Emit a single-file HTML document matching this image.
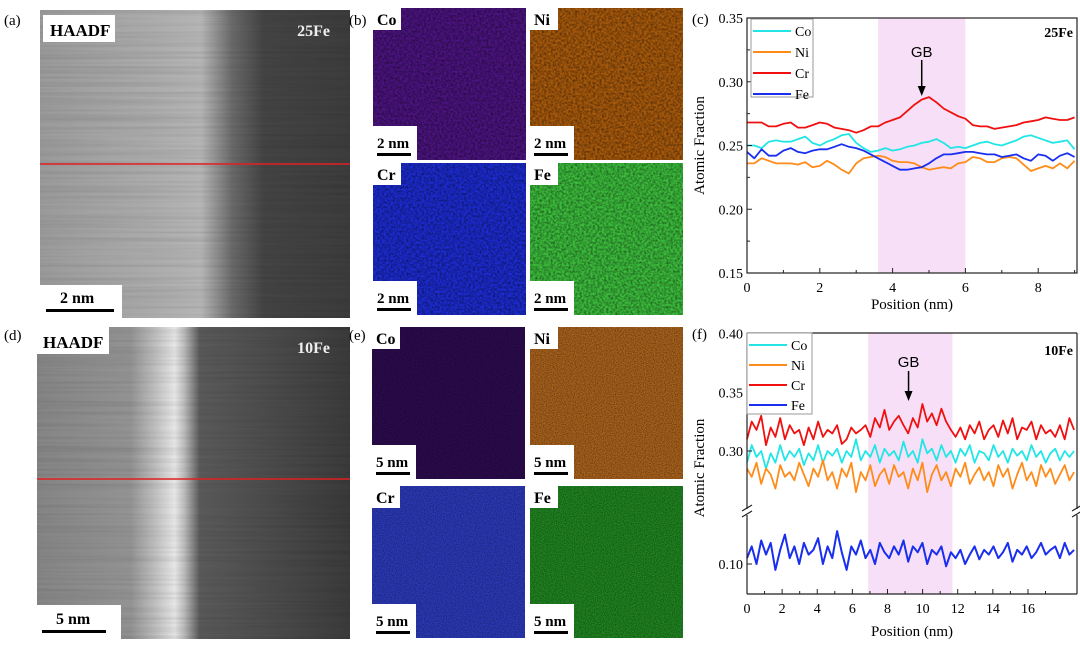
<!DOCTYPE html>
<html><head><meta charset="utf-8"><style>
html,body{margin:0;padding:0;background:#fff;}
svg{display:block;font-family:"Liberation Serif",serif;}
</style></head><body>
<svg id="fig" width="1080" height="645" viewBox="0 0 1080 645" xmlns="http://www.w3.org/2000/svg">
<defs>
<filter id="noise" x="0" y="0" width="100%" height="100%"><feTurbulence type="fractalNoise" baseFrequency="0.45" numOctaves="2" seed="3"/><feColorMatrix type="matrix" values="0 0 0 0 0  0 0 0 0 0  0 0 0 0 0  0 0 0 -1.6 1.1"/></filter>
<filter id="noiseF" x="0" y="0" width="100%" height="100%"><feTurbulence type="fractalNoise" baseFrequency="0.9" numOctaves="2" seed="7"/><feColorMatrix type="matrix" values="0 0 0 0 0  0 0 0 0 0  0 0 0 0 0  0 0 0 -1.4 1.0"/></filter>
<filter id="streak" x="0" y="0" width="100%" height="100%"><feTurbulence type="fractalNoise" baseFrequency="0.004 0.35" numOctaves="2" seed="5"/><feColorMatrix type="matrix" values="0 0 0 0 0  0 0 0 0 0  0 0 0 0 0  0 0 0 -1.2 0.75"/></filter>
<linearGradient id="gA" x1="0" x2="1" y1="0" y2="0"><stop offset="0" stop-color="#9a9a9a"/><stop offset="0.35" stop-color="#ababab"/><stop offset="0.52" stop-color="#b5b5b5"/><stop offset="0.62" stop-color="#6a6a6a"/><stop offset="0.72" stop-color="#444"/><stop offset="1" stop-color="#3c3c3c"/></linearGradient>
<linearGradient id="gD" x1="0" x2="1" y1="0" y2="0"><stop offset="0" stop-color="#858585"/><stop offset="0.3" stop-color="#939393"/><stop offset="0.38" stop-color="#c0c0c0"/><stop offset="0.44" stop-color="#e6e6e6"/><stop offset="0.47" stop-color="#bdbdbd"/><stop offset="0.52" stop-color="#5a5a5a"/><stop offset="1" stop-color="#3a3a3a"/></linearGradient>
</defs>

<!-- (a) HAADF 25Fe -->
<g>
<rect x="40" y="10" width="310" height="308" fill="url(#gA)"/>
<rect x="40" y="10" width="310" height="308" fill="#000" filter="url(#streak)" opacity="0.15"/>
<line x1="40" y1="164" x2="350" y2="164" stroke="#e02020" stroke-width="1.5"/>
<rect x="43" y="15" width="72" height="27" fill="#fff"/>
<text x="50" y="36" font-weight="bold" font-size="17">HAADF</text>
<text x="330" y="36" font-weight="bold" font-size="16" fill="#eee" text-anchor="end">25Fe</text>
<rect x="40" y="285" width="82" height="33" fill="#fff"/>
<text x="60" y="303" font-weight="bold" font-size="16">2 nm</text>
<rect x="46" y="309" width="68" height="3" fill="#000"/>
</g>
<text x="4" y="25" font-size="15">(a)</text>

<!-- (d) HAADF 10Fe -->
<g>
<rect x="37" y="327" width="313" height="312" fill="url(#gD)"/>
<rect x="37" y="327" width="313" height="312" fill="#000" filter="url(#streak)" opacity="0.15"/>
<line x1="37" y1="479" x2="350" y2="479" stroke="#e02020" stroke-width="1.5"/>
<rect x="37" y="327" width="72" height="27" fill="#fff"/>
<text x="43" y="348" font-weight="bold" font-size="17">HAADF</text>
<text x="330" y="353" font-weight="bold" font-size="16" fill="#eee" text-anchor="end">10Fe</text>
<rect x="37" y="605" width="84" height="34" fill="#fff"/>
<text x="56" y="624" font-weight="bold" font-size="16">5 nm</text>
<rect x="42" y="630" width="64" height="3" fill="#000"/>
</g>
<text x="4" y="340" font-size="15">(d)</text>

<text x="349" y="25" font-size="15">(b)</text>
<text x="349" y="340" font-size="15">(e)</text>
<g id="eds"></g>

<text x="692" y="24" font-size="15">(c)</text>
<text x="692" y="339" font-size="15">(f)</text>
<g id="chartC"></g>
<g id="chartF"></g>
</svg>
<script>
// ---------- Chart (c) data ----------
const cPositions = [0,0.2,0.4,0.6,0.8,1.0,1.2,1.4,1.6,1.8,2.0,2.2,2.4,2.6,2.8,3.0,3.2,3.4,3.6,3.8,4.0,4.2,4.4,4.6,4.8,5.0,5.2,5.4,5.6,5.8,6.0,6.2,6.4,6.6,6.8,7.0,7.2,7.4,7.6,7.8,8.0,8.2,8.4,8.6,8.8,9.0];
const cCr = [0.268,0.268,0.268,0.265,0.265,0.267,0.268,0.264,0.264,0.266,0.268,0.267,0.264,0.263,0.262,0.260,0.262,0.265,0.265,0.268,0.270,0.272,0.277,0.282,0.286,0.288,0.284,0.279,0.276,0.273,0.271,0.266,0.265,0.265,0.263,0.264,0.265,0.266,0.268,0.269,0.270,0.272,0.271,0.270,0.270,0.272];
const cCo = [0.250,0.250,0.248,0.253,0.254,0.253,0.253,0.255,0.257,0.252,0.250,0.253,0.255,0.258,0.259,0.252,0.248,0.245,0.246,0.248,0.246,0.247,0.249,0.250,0.252,0.253,0.255,0.252,0.248,0.249,0.248,0.250,0.252,0.253,0.251,0.250,0.252,0.254,0.257,0.258,0.256,0.254,0.252,0.253,0.254,0.247];
const cNi = [0.236,0.236,0.240,0.238,0.236,0.236,0.236,0.235,0.237,0.233,0.234,0.238,0.235,0.231,0.228,0.236,0.240,0.241,0.242,0.241,0.238,0.237,0.237,0.236,0.233,0.231,0.232,0.233,0.232,0.236,0.237,0.241,0.240,0.237,0.237,0.240,0.241,0.240,0.235,0.230,0.232,0.234,0.232,0.236,0.232,0.238];
const cFe = [0.245,0.240,0.247,0.242,0.242,0.246,0.248,0.245,0.244,0.246,0.247,0.247,0.249,0.251,0.249,0.248,0.246,0.243,0.240,0.237,0.234,0.231,0.231,0.232,0.233,0.236,0.240,0.243,0.243,0.244,0.245,0.245,0.244,0.243,0.243,0.241,0.242,0.243,0.240,0.238,0.243,0.242,0.238,0.242,0.244,0.241];
const cXTicks = ["0","2","4","6","8"];
const cYTicks = ["0.15","0.20","0.25","0.30","0.35"];
const cBand = [3.6, 6.0];
const cGB = 4.8;

// ---------- Chart (f) data ----------
const fStep = 0.27;
const fCr = [0.31,0.325,0.318,0.33,0.305,0.32,0.312,0.328,0.31,0.322,0.315,0.318,0.305,0.32,0.31,0.325,0.312,0.318,0.315,0.322,0.306,0.31,0.32,0.315,0.318,0.322,0.312,0.328,0.32,0.335,0.318,0.325,0.33,0.322,0.315,0.328,0.32,0.34,0.325,0.332,0.322,0.336,0.325,0.318,0.312,0.32,0.31,0.322,0.315,0.325,0.31,0.318,0.322,0.312,0.326,0.315,0.328,0.31,0.32,0.318,0.325,0.31,0.322,0.315,0.318,0.312,0.322,0.31,0.328,0.318];
const fCo = [0.29,0.305,0.295,0.3,0.285,0.298,0.29,0.305,0.292,0.3,0.295,0.302,0.288,0.298,0.292,0.305,0.29,0.3,0.296,0.302,0.29,0.3,0.295,0.31,0.292,0.3,0.295,0.305,0.29,0.302,0.296,0.3,0.292,0.308,0.295,0.3,0.29,0.31,0.298,0.302,0.292,0.305,0.295,0.3,0.29,0.302,0.296,0.305,0.29,0.3,0.298,0.292,0.305,0.295,0.3,0.29,0.302,0.296,0.3,0.292,0.305,0.295,0.3,0.29,0.298,0.302,0.292,0.3,0.295,0.3];
const fNi = [0.285,0.278,0.29,0.272,0.285,0.28,0.268,0.288,0.278,0.282,0.275,0.29,0.28,0.27,0.285,0.278,0.292,0.275,0.282,0.268,0.285,0.278,0.29,0.265,0.282,0.275,0.288,0.27,0.28,0.285,0.272,0.288,0.278,0.282,0.268,0.285,0.275,0.29,0.265,0.28,0.288,0.275,0.282,0.27,0.285,0.278,0.29,0.272,0.28,0.286,0.275,0.282,0.27,0.288,0.278,0.285,0.268,0.28,0.29,0.275,0.282,0.27,0.288,0.278,0.285,0.272,0.28,0.288,0.275,0.282];
const fFe = [0.105,0.115,0.1,0.12,0.108,0.118,0.095,0.112,0.125,0.105,0.115,0.1,0.118,0.108,0.112,0.122,0.1,0.115,0.105,0.128,0.11,0.095,0.115,0.108,0.12,0.105,0.112,0.1,0.118,0.11,0.105,0.115,0.108,0.12,0.102,0.115,0.11,0.118,0.1,0.112,0.108,0.115,0.098,0.11,0.105,0.112,0.1,0.108,0.115,0.104,0.112,0.108,0.115,0.105,0.11,0.118,0.102,0.112,0.108,0.115,0.105,0.11,0.118,0.108,0.112,0.115,0.105,0.118,0.108,0.112];
const fXTicks = ["0","2","4","6","8","10","12","14","16"];
const fYTicksUpper = ["0.30","0.35","0.40"];
const fYTicksLower = ["0.10"];
const fBand = [6.9, 11.7];
const fGB = 9.2;

const NS = "http://www.w3.org/2000/svg";
function mk(tag, attrs, parent, txt){
  const e = document.createElementNS(NS, tag);
  for (const k in attrs) e.setAttribute(k, attrs[k]);
  if (txt !== undefined) e.textContent = txt;
  parent.appendChild(e);
  return e;
}
const COL = {Co:"#22e6e6", Ni:"#ff8c1a", Cr:"#f01010", Fe:"#1a2ef0"};

// ---------- EDS maps ----------
const eds = document.getElementById('eds');
const maps = [
  {el:"Co", x:373, y:8, c:"#4c1480", s:"2 nm", f:"noise"},
  {el:"Ni", x:530, y:8, c:"#a85a0c", s:"2 nm", f:"noise"},
  {el:"Cr", x:373, y:163, c:"#1c2cd0", s:"2 nm", f:"noise"},
  {el:"Fe", x:530, y:163, c:"#3cbc3c", s:"2 nm", f:"noise"},
  {el:"Co", x:372, y:327, c:"#2e0c52", s:"5 nm", f:"noiseF"},
  {el:"Ni", x:530, y:327, c:"#b0661e", s:"5 nm", f:"noiseF"},
  {el:"Cr", x:372, y:486, c:"#2e3cc0", s:"5 nm", f:"noiseF"},
  {el:"Fe", x:530, y:486, c:"#228a22", s:"5 nm", f:"noiseF"}
];
maps.forEach((m,i)=>{
  const g = mk('g', {}, eds);
  
  
  mk('rect', {x:m.x, y:m.y, width:153, height:152, fill:m.c}, g);
  mk('rect', {x:m.x, y:m.y, width:153, height:152, fill:"#000", filter:"url(#"+m.f+")", opacity:0.55}, g);
  mk('rect', {x:m.x, y:m.y, width:28, height:22, fill:"#fff"}, g);
  const t = mk('text', {x:m.x+4, y:m.y+17, "font-weight":"bold", "font-size":"16"}, g, m.el);
  
  
  mk('rect', {x:m.x, y:m.y+118, width:44, height:34, fill:"#fff"}, g);
  const s = mk('text', {x:m.x+4, y:m.y+140, "font-weight":"bold", "font-size":"15"}, g, m.s);
  
  
  mk('rect', {x:m.x+4, y:m.y+145, width:34, height:3, fill:"#000"}, g);
});

function linePath(xs, ys, xf, yf){
  return xs.map((x,i)=>(i?'L':'M')+xf(x).toFixed(1)+','+yf(ys[i]).toFixed(1)).join(' ');
}
function legend(g, x0, y0, dy, w, h){
  const lg = mk('g', {}, g);
  
  
  mk('rect', {x:x0, y:y0, width:w, height:h, fill:"#fff", stroke:"#999", "stroke-width":1}, lg);
  ["Co","Ni","Cr","Fe"].forEach((n,i)=>{
    const e = mk('g', {}, lg);
    
    
    const yy = y0 + 12 + i*dy;
    mk('line', {x1:x0+2, x2:x0+40, y1:yy, y2:yy, stroke:COL[n], "stroke-width":2}, e);
    mk('text', {x:x0+44, y:yy+5, "font-size":"14"}, e, n);
  });
}

// ---------- Chart (c) ----------
(function(){
  const g = document.getElementById('chartC');
  const L=747, R=1077, T=18, B=273;
  const x = v => L + v*36.4;
  const y = v => B - (v-0.15)*1275;
  const band = mk('rect', {x:x(cBand[0]), y:T, width:x(cBand[1])-x(cBand[0]), height:B-T, fill:"#f7e0f7"}, g);
  
  
  const series = {Co:cCo, Ni:cNi, Cr:cCr, Fe:cFe};
  for (const n of ["Ni","Co","Fe","Cr"]) {
    const p = mk('path', {d:linePath(cPositions, series[n], x, y), fill:"none", stroke:COL[n], "stroke-width":1.8, "stroke-linejoin":"round"}, g);
    
    
  }
  mk('rect', {x:L, y:T, width:R-L, height:B-T, fill:"none", stroke:"#222", "stroke-width":1.2}, g);
  cXTicks.forEach(t=>{
    const v = +t;
    mk('line', {x1:x(v), x2:x(v), y1:B, y2:B-5, stroke:"#222"}, g);
    mk('line', {x1:x(v+1), x2:x(v+1), y1:B, y2:B-3, stroke:"#222"}, g);
    const lab = mk('text', {x:x(v), y:B+19, "text-anchor":"middle", "font-size":"14"}, g, t);
    
    
  });
  cYTicks.forEach((t,i)=>{
    const v = +t;
    mk('line', {x1:L, x2:L+5, y1:y(v), y2:y(v), stroke:"#222"}, g);
    if (i < cYTicks.length-1) mk('line', {x1:L, x2:L+3, y1:y(v+0.025), y2:y(v+0.025), stroke:"#222"}, g);
    const lab = mk('text', {x:L-4, y:y(v)+5, "text-anchor":"end", "font-size":"14"}, g, t);
    
    
  });
  const xt = mk('text', {x:(L+R)/2, y:B+36, "text-anchor":"middle", "font-size":"15"}, g, "Position (nm)");
  
  
  const yt = mk('text', {x:0, y:0, transform:"translate(704,"+((T+B)/2)+") rotate(-90)", "text-anchor":"middle", "font-size":"15"}, g, "Atomic Fraction");
  
  
  legend(g, 751, 19, 21, 62, 78);
  const gb = mk('text', {x:x(cGB), y:57, "text-anchor":"middle", "font-size":"15", "font-family":"Liberation Sans, sans-serif"}, g, "GB");
  
  
  mk('line', {x1:x(cGB), x2:x(cGB), y1:60, y2:88, stroke:"#000", "stroke-width":1.5}, g);
  mk('path', {d:`M${x(cGB)-4},86 L${x(cGB)+4},86 L${x(cGB)},96 Z`, fill:"#000"}, g);
  const s = mk('text', {x:R-4, y:37, "text-anchor":"end", "font-weight":"bold", "font-size":"14"}, g, "25Fe");
  
  
})();

// ---------- Chart (f) ----------
(function(){
  const g = document.getElementById('chartF');
  const L=747, R=1077, T=333, B=594, BRK=512;
  const x = v => L + v*17.56;
  const yU = v => 451 - (v-0.30)*1174;
  const yL = v => 564 - (v-0.10)*1174;
  const xs = fCr.map((_,i)=>i*fStep);
  const band = mk('rect', {x:x(fBand[0]), y:T, width:x(fBand[1])-x(fBand[0]), height:B-T, fill:"#f7e0f7"}, g);
  
  
  const series = {Co:fCo, Ni:fNi, Cr:fCr};
  for (const n of ["Cr","Co","Ni"]) {
    const p = mk('path', {d:linePath(xs, series[n], x, yU), fill:"none", stroke:COL[n], "stroke-width":1.8, "stroke-linejoin":"round"}, g);
    
    
  }
  const pf = mk('path', {d:linePath(xs, fFe, x, yL), fill:"none", stroke:COL.Fe, "stroke-width":2, "stroke-linejoin":"round"}, g);
  
  
  mk('line', {x1:L, x2:R, y1:T, y2:T, stroke:"#222", "stroke-width":1.2}, g);
  mk('line', {x1:L, x2:R, y1:B, y2:B, stroke:"#222", "stroke-width":1.2}, g);
  [L,R].forEach(xx=>{
    mk('line', {x1:xx, x2:xx, y1:T, y2:BRK-3, stroke:"#222", "stroke-width":1.2}, g);
    mk('line', {x1:xx, x2:xx, y1:BRK+3, y2:B, stroke:"#222", "stroke-width":1.2}, g);
    const br = mk('path', {d:`M${xx-5},${BRK-1} L${xx+5},${BRK-7} M${xx-5},${BRK+5} L${xx+5},${BRK-1}`, stroke:"#222", "stroke-width":1.2, fill:"none"}, g);
    
    
  });
  fXTicks.forEach(t=>{
    const v = +t;
    mk('line', {x1:x(v), x2:x(v), y1:B, y2:B-5, stroke:"#222"}, g);
    mk('line', {x1:x(v+1), x2:x(v+1), y1:B, y2:B-3, stroke:"#222"}, g);
    const lab = mk('text', {x:x(v), y:B+19, "text-anchor":"middle", "font-size":"14"}, g, t);
    
    
  });
  fYTicksUpper.forEach(t=>{
    const v = +t;
    mk('line', {x1:L, x2:L+5, y1:yU(v), y2:yU(v), stroke:"#222"}, g);
    const lab = mk('text', {x:L-4, y:yU(v)+5, "text-anchor":"end", "font-size":"14"}, g, t);
    
    
  });
  fYTicksLower.forEach(t=>{
    const v = +t;
    mk('line', {x1:L, x2:L+5, y1:yL(v), y2:yL(v), stroke:"#222"}, g);
    const lab = mk('text', {x:L-4, y:yL(v)+5, "text-anchor":"end", "font-size":"14"}, g, t);
    
    
  });
  const xt = mk('text', {x:(L+R)/2, y:B+42, "text-anchor":"middle", "font-size":"15"}, g, "Position (nm)");
  
  
  const yt = mk('text', {x:0, y:0, transform:"translate(704,468) rotate(-90)", "text-anchor":"middle", "font-size":"15"}, g, "Atomic Fraction");
  
  
  legend(g, 747, 333, 20, 65, 81);
  const gb = mk('text', {x:x(fGB), y:367, "text-anchor":"middle", "font-size":"15", "font-family":"Liberation Sans, sans-serif"}, g, "GB");
  
  
  mk('line', {x1:x(fGB), x2:x(fGB), y1:371, y2:393, stroke:"#000", "stroke-width":1.5}, g);
  mk('path', {d:`M${x(fGB)-4},391 L${x(fGB)+4},391 L${x(fGB)},401 Z`, fill:"#000"}, g);
  const s = mk('text', {x:R-4, y:355, "text-anchor":"end", "font-weight":"bold", "font-size":"14"}, g, "10Fe");
  
  
})();
</script>
</body></html>
